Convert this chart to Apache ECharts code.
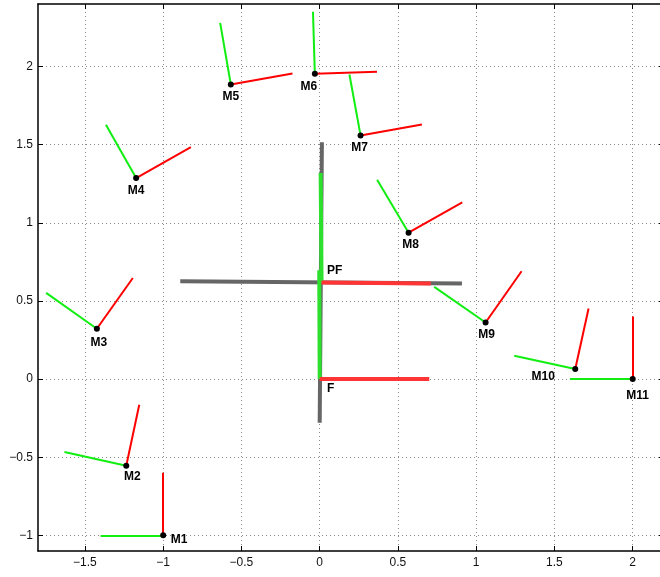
<!DOCTYPE html>
<html>
<head>
<meta charset="utf-8">
<script src="https://cdn.jsdelivr.net/npm/echarts@6/dist/echarts.min.js"></script>
<style>
  html, body { margin: 0; padding: 0; background: #fff; }
  #frames_chart { width: 660px; height: 577px; }
</style>
</head>
<body>
<div id="frames_chart"></div>
<script>
///////////////////////////////////////////////////
// Used data
///////////////////////////////////////////////////

// small frames M1..M11 : origin, end of red axis, end of green axis
var frameNames = ['M1', 'M2', 'M3', 'M4', 'M5', 'M6', 'M7', 'M8', 'M9', 'M10', 'M11'];
var originX = [-1, -1.236, -1.424, -1.173, -0.568, -0.031, 0.261, 0.568, 1.06, 1.633, 2];
var originY = [-1, -0.554, 0.322, 1.286, 1.885, 1.953, 1.559, 0.937, 0.362, 0.064, 0];
var redEndX = [-1, -1.153, -1.194, -0.823, -0.174, 0.366, 0.653, 0.911, 1.29, 1.718, 2];
var redEndY = [-0.6, -0.164, 0.647, 1.484, 1.955, 1.966, 1.629, 1.131, 0.69, 0.452, 0.4];
var greenEndX = [-1.4, -1.631, -1.748, -1.366, -0.636, -0.043, 0.19, 0.367, 0.732, 1.243, 1.6];
var greenEndY = [-1, -0.466, 0.552, 1.627, 2.279, 2.351, 1.949, 1.276, 0.59, 0.149, 0];

// big frames F and PF
var bigNames = ['F', 'PF'];
var bigOriginX = [0, 0.012];
var bigOriginY = [0, 0.618];
var bigRedEndX = [0.7, 0.71];
var bigRedEndY = [0, 0.612];
var bigGreenEndX = [-0.003, 0.006];
var bigGreenEndY = [0.697, 1.318];

// gray cross (start x, start y, end x, end y)
var grayStartX = [0, -0.891];
var grayStartY = [-0.279, 0.626];
var grayEndX = [0.014, 0.909];
var grayEndY = [1.516, 0.611];

// axes
var xTicks = [-1.5, -1, -0.5, 0, 0.5, 1, 1.5, 2];
var yTicks = [-1, -0.5, 0, 0.5, 1, 1.5, 2];

///////////////////////////////////////////////////
// Chart
///////////////////////////////////////////////////

// label placement (pixels from the point)
var labelOffset = {
  M1: [16, 4], M2: [6, 11], M3: [2, 14], M4: [0, 13], M5: [0, 12], M6: [-6, 13],
  M7: [-1, 12], M8: [2, 12], M9: [1, 12], M10: [-32, 8], M11: [5, 17],
  F: [11, 10], PF: [13, -12],
};

function segments(x0, y0, x1, y1) {
  return x0.map(function (x, i) {
    return { coords: [[x, y0[i]], [x1[i], y1[i]]] };
  });
}

function pointItems(names, xs, ys) {
  return names.map(function (n, i) {
    return {
      name: n,
      value: [xs[i], ys[i]],
      label: { offset: labelOffset[n] },
    };
  });
}

var FONT = "'Liberation Sans', Arial, Helvetica, sans-serif";
var minus = function (v) { return String(v).replace('-', '\u2212'); };

var textLabel = {
  show: true,
  position: 'inside',
  align: 'center',
  verticalAlign: 'middle',
  formatter: '{b}',
  color: '#000',
  fontSize: 12,
  fontWeight: 'bold',
  fontFamily: FONT,
};

function axis(kind, pos, ticks, min, max, main) {
  return {
    type: 'value',
    position: pos,
    min: min,
    max: max,
    axisLine: { show: true, onZero: false, lineStyle: { color: '#000', width: 1.5 } },
    axisTick: { show: true, inside: true, length: 5, customValues: ticks, lineStyle: { color: '#000' } },
    axisLabel: {
      show: main,
      customValues: ticks,
      formatter: minus,
      color: '#111',
      fontSize: 12,
      fontFamily: FONT,
      margin: kind === 'x' ? 6 : 5,
    },
    splitLine: {
      show: main,
      lineStyle: { color: '#8a8a8a', width: 1, type: [1, 3] },
    },
  };
}

var option = {
  animation: false,
  backgroundColor: '#fff',
  grid: { left: 38, top: 4, right: -4, bottom: 26, outerBoundsMode: 'none' },
  xAxis: [
    axis('x', 'bottom', xTicks, -1.8, 2.2, true),
    axis('x', 'top', xTicks, -1.8, 2.2, false),
  ],
  yAxis: [
    axis('y', 'left', yTicks, -1.1, 2.4, true),
    axis('y', 'right', yTicks, -1.1, 2.4, false),
  ],
  series: [
    {
      name: 'gray',
      type: 'lines',
      coordinateSystem: 'cartesian2d',
      data: segments(grayStartX, grayStartY, grayEndX, grayEndY),
      lineStyle: { color: '#666', width: 4, opacity: 1 },
      z: 1,
    },
    {
      name: 'big green',
      type: 'lines',
      coordinateSystem: 'cartesian2d',
      data: segments(bigOriginX, bigOriginY, bigGreenEndX, bigGreenEndY),
      lineStyle: { color: '#2ee02e', width: 4, opacity: 1 },
      z: 2,
    },
    {
      name: 'big red',
      type: 'lines',
      coordinateSystem: 'cartesian2d',
      data: segments(bigOriginX, bigOriginY, bigRedEndX, bigRedEndY),
      lineStyle: { color: '#ff3535', width: 4, opacity: 1 },
      z: 2,
    },
    {
      name: 'green',
      type: 'lines',
      coordinateSystem: 'cartesian2d',
      data: segments(originX, originY, greenEndX, greenEndY),
      lineStyle: { color: '#11ee11', width: 2, opacity: 1 },
      z: 3,
    },
    {
      name: 'red',
      type: 'lines',
      coordinateSystem: 'cartesian2d',
      data: segments(originX, originY, redEndX, redEndY),
      lineStyle: { color: '#ff0000', width: 2, opacity: 1 },
      z: 3,
    },
    {
      name: 'origins',
      type: 'scatter',
      data: pointItems(frameNames, originX, originY),
      symbol: 'circle',
      symbolSize: 6,
      itemStyle: { color: '#000', opacity: 1 },
      label: textLabel,
      z: 4,
    },
    {
      name: 'big labels',
      type: 'scatter',
      data: pointItems(bigNames, bigOriginX, bigOriginY),
      symbolSize: 0,
      itemStyle: { opacity: 1 },
      label: textLabel,
      z: 4,
    },
  ],
};

var myChart = echarts.init(document.getElementById('frames_chart'), null, { renderer: 'canvas' });
myChart.setOption(option);
</script>
</body>
</html>
